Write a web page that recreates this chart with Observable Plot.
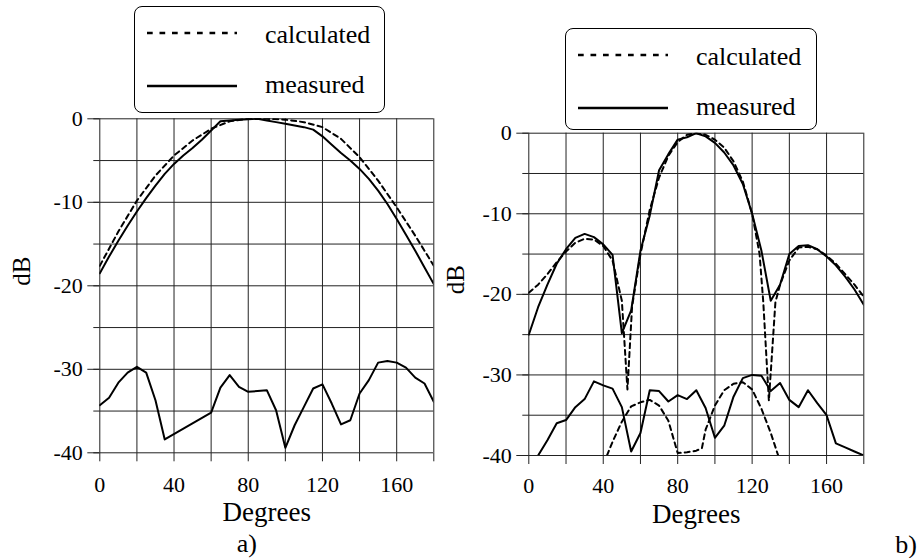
<!DOCTYPE html>
<html><head><meta charset="utf-8">
<script src="https://cdn.jsdelivr.net/npm/d3@7"></script>
<script src="https://cdn.jsdelivr.net/npm/@observablehq/plot@0.6"></script>
<style>
html,body{margin:0;padding:0;background:#fff;}
#wrap{position:relative;width:921px;height:558px;overflow:hidden;font-family:"Liberation Serif","Times New Roman",serif;}
#wrap > svg{position:absolute;top:0;}
.legend{position:absolute;border:1.5px solid #000;border-radius:8px;background:#fff;box-sizing:border-box;}
.legend svg{position:absolute;left:0;top:0;overflow:visible;}
</style>
</head><body>
<div id="wrap"></div>
<script>
// ---------- data ----------
const xGridValues = [0,20,40,60,80,100,120,140,160,180];
const xTickLabels = [0,40,80,120,160];
const yMinorTicks = [0,-5,-10,-15,-20,-25,-30,-35,-40];
const yTickLabels = [0,-10,-20,-30,-40];
const legendLabels = ["calculated","measured"];
const axisTitles = {x:"Degrees", y:"dB"};
const panelCaptions = ["a)","b)"];

// panel a) main lobe, measured
const aMeasMainDeg = [0,5,10,15,20,25,30,35,40,45,50,55,60,65,70,75,80,85,90,95,100,105,110,115,120,125,130,135,140,145,150,155,160,165,170,175,180];
const aMeasMainDb  = [-18.5,-16.5,-14.6,-12.8,-11.1,-9.5,-8.0,-6.6,-5.4,-4.4,-3.5,-2.5,-1.4,-0.3,-0.2,-0.1,-0.05,0,-0.2,-0.4,-0.6,-0.8,-1.0,-1.3,-2.1,-3.1,-4.1,-5.0,-6.0,-7.2,-8.6,-10.2,-12.0,-13.9,-15.8,-17.8,-19.8];
// panel a) main lobe, calculated
const aCalcMainDeg = [0,10,20,30,40,50,60,70,80,90,100,110,120,130,140,150,160,170,180];
const aCalcMainDb  = [-17.6,-13.5,-9.8,-6.8,-4.4,-2.6,-1.2,-0.3,0,0,-0.1,-0.4,-1.0,-2.4,-4.6,-7.4,-10.6,-14.0,-17.6];
// panel a) lower curve, measured
const aMeasLowDeg = [0,5,10,15,20,25,30,35,60,65,70,75,80,85,90,95,100,105,110,115,120,125,130,135,140,145,150,155,160,165,170,175,180];
const aMeasLowDb  = [-34.3,-33.4,-31.6,-30.4,-29.7,-30.4,-33.7,-38.4,-35.2,-32.2,-30.7,-32.1,-32.7,-32.6,-32.5,-34.9,-39.4,-36.7,-34.5,-32.3,-31.8,-34.1,-36.6,-36.1,-32.9,-31.3,-29.2,-29.0,-29.2,-29.8,-31.0,-31.7,-33.9];

// panel b) main, measured
const bMeasMainDeg = [0,5,10,15,20,25,30,35,40,45,50,55,60,65,70,75,80,85,90,95,100,105,110,115,120,125,130,135,140,145,150,155,160,165,170,175,180];
const bMeasMainDb  = [-25,-21.6,-18.8,-16.2,-14.4,-13,-12.5,-12.9,-13.8,-15.1,-24.8,-22,-14.6,-10.2,-4.6,-2.6,-0.8,-0.5,0,-0.4,-1.2,-2.4,-4,-6.3,-10,-14.6,-20.8,-18.8,-15,-14,-13.9,-14.4,-15.3,-16.4,-17.8,-19.4,-21.3];
// panel b) main, calculated
const bCalcMainDeg = [0,5,10,15,20,25,30,35,40,45,50,53,55.5,60,65,70,75,80,85,90,95,100,105,110,115,120,124,126,129,132.5,135,140,145,150,155,160,165,170,175,180];
const bCalcMainDb  = [-19.8,-18.8,-17.5,-16,-14.7,-13.6,-13.1,-13.2,-14,-15.8,-20.8,-31.8,-21.5,-15,-9.5,-5.5,-2.8,-1.1,-0.2,0,-0.2,-0.8,-1.8,-3.5,-6,-10,-15,-21,-33.2,-21,-18.8,-15.8,-14.2,-14.1,-14.4,-15.2,-16.2,-17.5,-18.8,-20.3];
// panel b) lower, measured
const bMeasLowDeg = [5,10,15,20,25,30,35,40,45,50,55,60,65,70,75,80,85,90,95,100,105,110,115,120,125,130,135,140,145,150,155,160,165,170,175,180];
const bMeasLowDb  = [-40,-38.1,-36,-35.6,-34,-33,-30.8,-31.3,-31.7,-34,-39.5,-37.2,-31.9,-32,-33.3,-32.5,-33,-31.9,-34.1,-37.8,-36.3,-32.7,-30.4,-30,-30.1,-32,-31,-33.1,-34,-31.9,-33.5,-35,-38.5,-39,-39.5,-40];
// panel b) lower, calculated
const bCalcLowDeg = [42,45,50,55,60,65,70,75,80,85,90,93,95,100,105,110,115,120,125,130,134];
const bCalcLowDb  = [-40,-38.3,-35.8,-33.9,-33.4,-33.1,-33.8,-35.7,-39.7,-39.6,-39.4,-39.1,-36.8,-33.8,-31.9,-31.1,-30.9,-31.8,-34.2,-37.2,-40];

// ---------- drawing ----------
const toRows = (xs, ys) => xs.map((x, i) => ({deg: x, db: ys[i]}));
const FONT = "Liberation Serif, Times New Roman, serif";
const DASH = "5,4";

function panel(cfg) {
  const lines = cfg.series.map(s => Plot.line(toRows(s.deg, s.db), {
    x: "deg", y: "db", stroke: "#000", strokeWidth: 2,
    strokeDasharray: s.dashed ? DASH : null, clip: true
  }));
  return Plot.plot({
    width: cfg.width, height: cfg.height,
    marginLeft: cfg.mL, marginRight: cfg.mR, marginTop: cfg.mT, marginBottom: cfg.mB,
    style: {fontFamily: FONT, fontSize: "22px", background: "transparent", overflow: "visible", color: "#000"},
    x: {domain: [0, 180]},
    y: {domain: [-40, 0]},
    marks: [
      Plot.gridX(xGridValues, {stroke: "#222", strokeOpacity: 1, strokeWidth: 1}),
      Plot.gridY(yMinorTicks, {stroke: "#222", strokeOpacity: 1, strokeWidth: 1}),
      Plot.axisX({ticks: xGridValues, tickSize: 9, tickPadding: cfg.xPad, fontSize: 22,
        tickFormat: d => xTickLabels.includes(d) ? String(d) : "", label: null, stroke: "#222"}),
      Plot.axisY({ticks: yMinorTicks, tickSize: 6, tickFormat: () => "", label: null, stroke: "#222"}),
      Plot.axisY({ticks: yTickLabels, tickSize: 12, tickPadding: 5, fontSize: 22,
        tickFormat: d => String(d), label: null, stroke: "#222"}),
      ...lines,
      Plot.text([axisTitles.y], {text: d => d, frameAnchor: "left", dx: cfg.dbDx, rotate: -90, fontSize: 25, fill: "#000"}),
      Plot.text([axisTitles.x], {text: d => d, frameAnchor: "bottom", dy: cfg.degDy, fontSize: 27, fill: "#000"}),
      Plot.text([cfg.caption], {text: d => d, frameAnchor: cfg.capAnchor, dx: cfg.capDx, dy: cfg.capDy, fontSize: 26, fill: "#000"})
    ]
  });
}

const wrap = document.getElementById("wrap");

const left = panel({
  width: 460, height: 558, mL: 99.3, mR: 26.7, mT: 118.3, mB: 105.7,
  xPad: 15, dbDx: -78, degDy: 68, caption: panelCaptions[0], capAnchor: "bottom", capDx: -20, capDy: 99.5,
  series: [
    {deg: aCalcMainDeg, db: aCalcMainDb, dashed: true},
    {deg: aMeasMainDeg, db: aMeasMainDb, dashed: false},
    {deg: aMeasLowDeg, db: aMeasLowDb, dashed: false}
  ]
});
left.style.left = "0px";
wrap.appendChild(left);

const right = panel({
  width: 481, height: 558, mL: 88.3, mR: 57.7, mT: 132.7, mB: 103,
  xPad: 13, dbDx: -73.3, degDy: 67, caption: panelCaptions[1], capAnchor: "bottom-right", capDx: 53, capDy: 97,
  series: [
    {deg: bCalcMainDeg, db: bCalcMainDb, dashed: true},
    {deg: bMeasMainDeg, db: bMeasMainDb, dashed: false},
    {deg: bCalcLowDeg, db: bCalcLowDb, dashed: true},
    {deg: bMeasLowDeg, db: bMeasLowDb, dashed: false}
  ]
});
right.style.left = "440px";
wrap.appendChild(right);

// legends
function legend(x, y, w, h) {
  const div = document.createElement("div");
  div.className = "legend";
  Object.assign(div.style, {left: x + "px", top: y + "px", width: w + "px", height: h + "px"});
  const ns = "http://www.w3.org/2000/svg";
  const svg = document.createElementNS(ns, "svg");
  svg.setAttribute("width", w); svg.setAttribute("height", h);
  const rows = [{label: legendLabels[0], dashed: true, ly: 26, ty: 36}, {label: legendLabels[1], dashed: false, ly: 79, ty: 86}];
  for (const r of rows) {
    const ln = document.createElementNS(ns, "line");
    ln.setAttribute("x1", 12); ln.setAttribute("x2", 102);
    ln.setAttribute("y1", r.ly); ln.setAttribute("y2", r.ly);
    ln.setAttribute("stroke", "#000");
    ln.setAttribute("stroke-width", 2.5);
    if (r.dashed) ln.setAttribute("stroke-dasharray", "5.7,6.8");
    svg.appendChild(ln);
    const t = document.createElementNS(ns, "text");
    t.setAttribute("x", 130); t.setAttribute("y", r.ty);
    t.setAttribute("font-family", FONT); t.setAttribute("font-size", 26);
    t.textContent = r.label;
    svg.appendChild(t);
  }
  div.appendChild(svg);
  wrap.appendChild(div);
}
legend(134, 6, 251, 107);
legend(565, 28, 252, 102);
</script>
</body></html>
